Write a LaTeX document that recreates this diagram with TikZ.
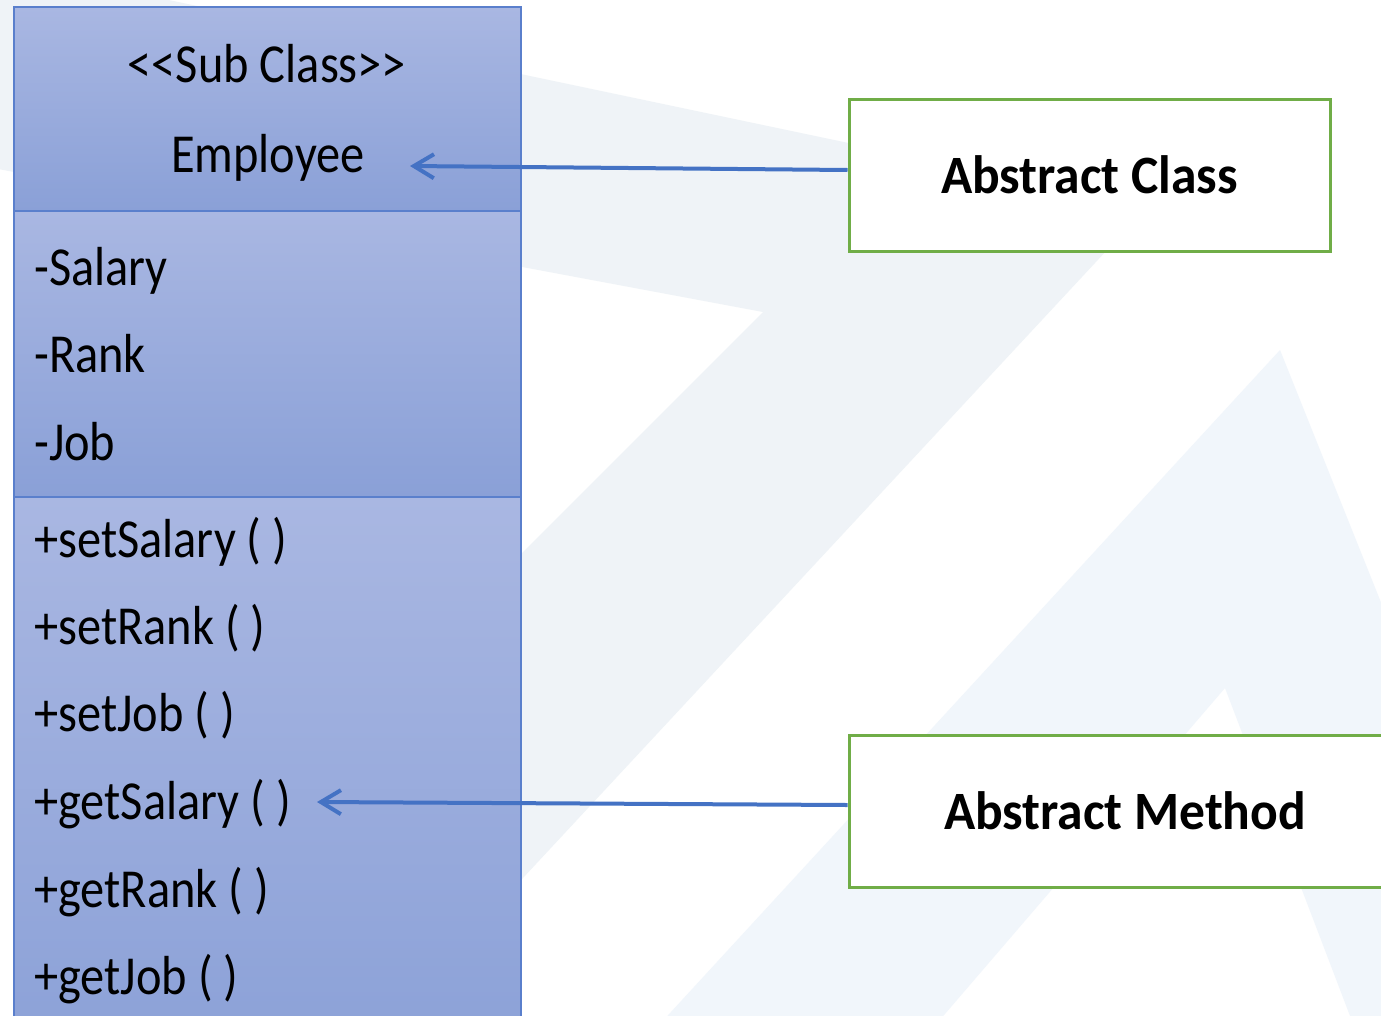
\documentclass[tikz,border=0pt]{standalone}
\usepackage{fontspec}
\setmainfont{Carlito}[FakeStretch=0.88]
\newfontfamily\labelfont{Carlito}[FakeStretch=0.955]
\usetikzlibrary{arrows.meta}
\definecolor{bandA}{HTML}{EFF3F7}
\definecolor{bandB}{HTML}{F1F6FB}
\definecolor{umlTop}{HTML}{A9B7E2}
\definecolor{umlBot}{HTML}{8AA0D7}
\definecolor{umlLine}{HTML}{5A7FCC}
\definecolor{arrowBlue}{HTML}{4472C4}
\definecolor{boxGreen}{HTML}{70AD47}
\begin{document}
\begin{tikzpicture}[x=1pt,y=-1pt,
  section/.style={draw=umlLine, line width=2pt, top color=umlTop, bottom color=umlBot},
  member/.style={font=\fontsize{55}{60}\selectfont, inner sep=0pt, anchor=base west},
  headtxt/.style={font=\fontsize{55}{60}\selectfont, inner sep=0pt, anchor=base},
  labelbox/.style={draw=boxGreen, line width=3pt, fill=white, inner sep=0pt,
    font=\labelfont\fontsize{54}{60}\selectfont\bfseries},
  conn/.style={draw=arrowBlue, line width=4pt, -{Straight Barb[length=20pt,width=24pt]}}
]
\useasboundingbox (0,0) rectangle (1381,1015);
\clip (0,0) rectangle (1381,1015);
\fill[white] (0,0) rectangle (1381,1015);
% watermark
\fill[bandA] (-50,-46) -- (1148,206) -- (363,1050) -- (25,1050) -- (763,312) -- (-50,160) -- cycle;
\fill[bandB, even odd rule] (1280,350) -- (1560,1050) -- (636,1050) -- cycle
  (1225,688) -- (1363,1050) -- (914,1050) -- cycle;
% class box
\path[section] (14,7) rectangle (521,211);
\path[section] (14,211) rectangle (521,497);
\path[section] (14,497) rectangle (521,1080);
\node[headtxt] (stereo) at (267,82) {<\kern0pt<Sub Class>\kern0pt>};
\node[headtxt] (cname) at (268,172) {Employee};
\node[member] (a1) at (34,285) {-Salary};
\node[member] (a2) at (34,372) {-Rank};
\node[member] (a3) at (34,460) {-Job};
\node[member] (m1) at (34,557) {+setSalary ( )};
\node[member] (m2) at (34,644) {+setRank ( )};
\node[member] (m3) at (34,731) {+setJob ( )};
\node[member] (m4) at (34,819) {+getSalary ( )};
\node[member] (m5) at (34,907) {+getRank ( )};
\node[member] (m6) at (34,994) {+getJob ( )};
% label boxes
\node[labelbox, minimum width=481pt, minimum height=152pt] (absC) at (1089.5,175) {Abstract Class};
\node[labelbox, minimum width=552pt, minimum height=152pt] (absM) at (1125,811) {Abstract Method};
% arrows
\coordinate (tipC) at (410,166);
\coordinate (tipM) at (317,802);
\draw[conn] ([yshift=5pt]absC.west) -- (tipC);
\draw[conn] ([yshift=6pt]absM.west) -- (tipM);
\end{tikzpicture}
\end{document}
